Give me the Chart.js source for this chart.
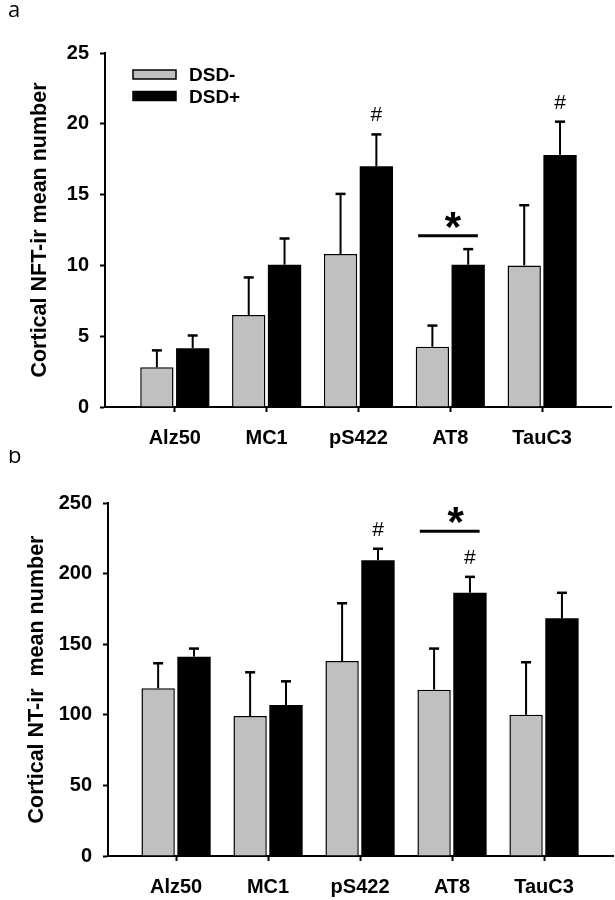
<!DOCTYPE html>
<html>
<head>
<meta charset="utf-8">
<script src="https://cdn.jsdelivr.net/npm/chart.js@4.4.1/dist/chart.umd.min.js"></script>
<style>
  html, body { margin: 0; padding: 0; background: #fff; }
  #wrap { position: relative; width: 615px; height: 900px; }
  canvas { position: absolute; left: 0; }
</style>
</head>
<body>
<div id="wrap">
  <canvas id="chartA" width="615" height="450" style="top:0"></canvas>
  <canvas id="chartB" width="615" height="450" style="top:450px"></canvas>
</div>
<script>
// Data
const categories = ['Alz50', 'MC1', 'pS422', 'AT8', 'TauC3'];
const seriesLabels = ['DSD-', 'DSD+'];

// panel a: cortical NFT-ir mean number
const nftNeg = [2.8, 6.5, 10.8, 4.25, 10.0];
const nftNegErr = [1.2, 2.65, 4.25, 1.5, 4.25];
const nftPos = [4.15, 10.05, 17.0, 10.05, 17.8];
const nftPosErr = [0.9, 1.85, 2.25, 1.1, 2.35];

// panel b: cortical NT-ir mean number
const ntNeg = [118.8, 99.1, 138.1, 117.8, 100];
const ntNegErr = [17.7, 31, 40.9, 29.1, 37.2];
const ntPos = [141.2, 106.9, 209.5, 186.4, 168.4];
const ntPosErr = [5.7, 16.8, 8.1, 11.3, 18];

const yMaxA = 25, yStepA = 5;
const yMaxB = 250, yStepB = 50;

// '#' marks: [dataset, category]
const hashA = [[1, 2], [1, 4]];
const hashB = [[1, 2], [1, 3]];
// significance bar over AT8 (x in category units, y in data units)
const sigA = { from: 2.65, to: 3.3, y: 12.1, starX: 3.03, starY: 13.2 };
const sigB = { from: 2.65, to: 3.3, y: 230, starX: 3.04, starY: 241.5 };

Chart.defaults.font.family = '"Liberation Sans", Arial, sans-serif';
Chart.defaults.color = '#000';

function drawCentered(ctx, text, cx, cy, font) {
  ctx.font = font;
  ctx.textAlign = 'center';
  ctx.textBaseline = 'alphabetic';
  const m = ctx.measureText(text);
  ctx.fillText(text, cx, cy + (m.actualBoundingBoxAscent - m.actualBoundingBoxDescent) / 2);
}

const extrasPlugin = {
  id: 'extras',
  afterDatasetsDraw(chart, args, opts) {
    const ctx = chart.ctx;
    const xs = chart.scales.x, ys = chart.scales.y;
    ctx.save();
    ctx.strokeStyle = '#000';
    ctx.fillStyle = '#000';

    // error bars (upper only)
    const caps = [];
    opts.errors.forEach((errs, d) => {
      const meta = chart.getDatasetMeta(d);
      const vals = chart.data.datasets[d].data;
      caps[d] = [];
      meta.data.forEach((bar, i) => {
        const top = ys.getPixelForValue(vals[i].y + errs[i]);
        caps[d][i] = top;
        ctx.lineWidth = 2;
        ctx.beginPath();
        ctx.moveTo(bar.x, bar.y);
        ctx.lineTo(bar.x, top);
        ctx.stroke();
        ctx.lineWidth = 2.5;
        ctx.beginPath();
        ctx.moveTo(bar.x - 5, top);
        ctx.lineTo(bar.x + 5, top);
        ctx.stroke();
      });
    });

    // # marks
    opts.hashes.forEach(([d, i]) => {
      const bar = chart.getDatasetMeta(d).data[i];
      drawCentered(ctx, '#', bar.x, caps[d][i] - 20, '21px "Liberation Sans", Arial, sans-serif');
    });

    // significance line and star
    const s = opts.sig;
    ctx.lineWidth = 3;
    ctx.beginPath();
    ctx.moveTo(xs.getPixelForValue(s.from), ys.getPixelForValue(s.y));
    ctx.lineTo(xs.getPixelForValue(s.to), ys.getPixelForValue(s.y));
    ctx.stroke();
    drawCentered(ctx, '*', xs.getPixelForValue(s.starX), ys.getPixelForValue(s.starY),
      'bold 42px "Liberation Sans", Arial, sans-serif');

    // legend
    if (opts.legend) {
      const lx = chart.chartArea.left + 28, ly = chart.chartArea.top + 17;
      chart.data.datasets.forEach((ds, d) => {
        const by = ly + d * 21.5;
        ctx.fillStyle = ds.backgroundColor;
        ctx.fillRect(lx, by, 43, 9);
        ctx.lineWidth = 1.5;
        ctx.strokeStyle = '#000';
        ctx.strokeRect(lx, by, 43, 9);
        ctx.fillStyle = '#000';
        ctx.font = 'bold 19px "Liberation Sans", Arial, sans-serif';
        ctx.textAlign = 'left';
        ctx.textBaseline = 'alphabetic';
        ctx.fillText(ds.label, lx + 56, by + 11);
      });
    }

    // panel letter
    ctx.fillStyle = '#000';
    ctx.font = '22px "Open Sans", sans-serif';
    ctx.textAlign = 'left';
    ctx.textBaseline = 'alphabetic';
    ctx.fillText(opts.letter, 8, opts.letterY);
    ctx.restore();
  }
};

function makeChart(id, cfg) {
  const toPoints = arr => arr.map((v, i) => ({ x: i, y: v }));
  return new Chart(document.getElementById(id), {
    type: 'bar',
    data: {
      datasets: [
        {
          label: seriesLabels[0],
          data: toPoints(cfg.neg),
          backgroundColor: '#c0c0c0',
          borderColor: '#000',
          borderWidth: 1.5,
          categoryPercentage: 0.78,
          barPercentage: 0.93
        },
        {
          label: seriesLabels[1],
          data: toPoints(cfg.pos),
          backgroundColor: '#000',
          borderColor: '#000',
          borderWidth: 0,
          categoryPercentage: 0.78,
          barPercentage: 0.93
        }
      ]
    },
    options: {
      responsive: false,
      animation: false,
      layout: { padding: { top: 53, right: cfg.padRight, left: 0, bottom: 0 } },
      plugins: {
        legend: { display: false },
        tooltip: { enabled: false },
        extras: {
          errors: [cfg.negErr, cfg.posErr],
          hashes: cfg.hashes,
          sig: cfg.sig,
          legend: cfg.legend,
          letter: cfg.letter,
          letterY: cfg.letterY
        }
      },
      scales: {
        x: {
          type: 'linear',
          offset: false,
          min: cfg.xMin,
          max: 4.75,
          afterBuildTicks: s => { s.ticks = categories.map((c, i) => ({ value: i })); },
          afterFit: s => { s.height = cfg.xHeight; },
          ticks: {
            autoSkip: false,
            maxRotation: 0,
            padding: 14,
            font: { size: 20, weight: 'bold' },
            callback: v => categories[v]
          },
          grid: { offset: false, drawOnChartArea: false, tickLength: 5, tickColor: '#000', tickWidth: 2 },
          border: { display: true, color: '#000', width: 2 }
        },
        y: {
          min: 0,
          max: cfg.yMax,
          afterFit: s => { s.width = cfg.yWidth; },
          ticks: {
            stepSize: cfg.yStep,
            padding: 11,
            font: { size: 20, weight: 'bold' }
          },
          grid: { drawOnChartArea: false, tickLength: 5, tickColor: '#000', tickWidth: 2 },
          border: { display: true, color: '#000', width: 2 },
          title: {
            display: true,
            text: cfg.title,
            font: { size: 21.5, weight: 'bold' },
            padding: { top: cfg.titlePad, bottom: 0 }
          }
        }
      }
    },
    plugins: [extrasPlugin]
  });
}

makeChart('chartA', {
  neg: nftNeg, negErr: nftNegErr, pos: nftPos, posErr: nftPosErr,
  yMax: yMaxA, yStep: yStepA, hashes: hashA, sig: sigA,
  title: 'Cortical NFT-ir mean number', titlePad: 27,
  xMin: -0.76, xHeight: 43, yWidth: 105, padRight: 4,
  legend: true, letter: 'a', letterY: 17
});

makeChart('chartB', {
  neg: ntNeg, negErr: ntNegErr, pos: ntPos, posErr: ntPosErr,
  yMax: yMaxB, yStep: yStepB, hashes: hashB, sig: sigB,
  title: 'Cortical NT-ir  mean number', titlePad: 24,
  xMin: -0.74, xHeight: 44, yWidth: 108, padRight: 2,
  legend: false, letter: 'b', letterY: 13
});
</script>
</body>
</html>
